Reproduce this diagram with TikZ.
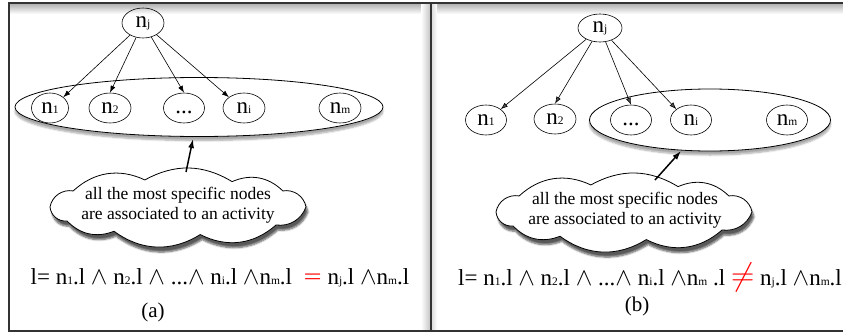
\documentclass[tikz,border=0pt]{standalone}
\usepackage{fontspec}
\setmainfont{Liberation Serif}
\usepackage{graphicx}
\usetikzlibrary{shapes.geometric,arrows.meta,shadows.blur,calc}
\newcommand{\lowsub}[1]{{\fontsize{0.5em}{0.5em}\selectfont #1}}
\newcommand{\puffcloud}[1]{%
  \foreach \a [count=\k] in {0,40,80,120,150,180,215,255,295,325}
    \coordinate (#1-\k) at ($(#1)+(\a:128 and 28)$);
  \draw[cloudline] (#1-1) to[bend left=38] (#1-2) to[bend left=34] (#1-3)
    to[bend left=34] (#1-4) to[bend left=34] (#1-5) to[bend left=45] (#1-6)
    to[bend left=45] (#1-7) to[bend left=34] (#1-8) to[bend left=30] (#1-9)
    to[bend left=34] (#1-10) to[bend left=45] (#1-1) -- cycle;}
\begin{document}
\begin{tikzpicture}[x=1pt,y=-1pt,
  nd/.style={ellipse,draw,line width=0.6pt,inner sep=0pt,minimum width=42pt,minimum height=30pt,font=\fontsize{23}{23}\selectfont},
  groupell/.style={ellipse,draw,line width=0.8pt,inner sep=0pt,fill=white,blur shadow={shadow xshift=0pt,shadow yshift=-4pt,shadow opacity=35,shadow blur steps=6}},
  cloudline/.style={draw,line width=0.8pt,fill=white,blur shadow={shadow xshift=2pt,shadow yshift=-5pt,shadow opacity=65,shadow blur steps=6}},
  bubbletext/.style={inner sep=0pt,align=center,font=\fontsize{17.5}{20}\selectfont},
  arrowline/.style={-{Latex[length=7pt,width=5pt]},line width=0.6pt},
  callout/.style={-{Latex[length=9pt,width=6pt]},line width=1.5pt},
  formula/.style={font=\fontsize{23}{23}\selectfont,inner sep=0pt},
  captext/.style={font=\fontsize{21}{21}\selectfont,inner sep=0pt},
  frameline/.style={line width=1.6pt,draw=black!80}]
\useasboundingbox (0,0) rectangle (843,332);
% frame shadows
\shade[top color=black!30,bottom color=white] (9,4) rectangle (843,14);
\shade[left color=white,right color=black!25] (421,4) rectangle (431,331);
\shade[left color=black!15,right color=white] (431,4) rectangle (437,331);
\draw[frameline] (9,3) rectangle (846,331);
\draw[frameline] (431,3) -- (431,331);

% ---------- panel (a) ----------
\node[groupell,minimum width=368pt,minimum height=59pt] (ga) at (199,107) {};
\node[nd] (ja) at (143,23) {n\lowsub{j}};
\node[nd,minimum width=37pt] (a1) at (50,108) {n\lowsub{1}};
\node[nd] (a2) at (110,108) {n\lowsub{2}};
\node[nd,minimum width=41pt] (ad) at (184,108) {\vphantom{n}...};
\node[nd] (ai) at (244,108) {n\lowsub{i}};
\node[nd] (am) at (340,108) {n\lowsub{m}};
\draw[arrowline] (ja) -- (a1.north east);
\draw[arrowline] (ja) -- (a2.north);
\draw[arrowline] (ja) -- (ad.north);
\draw[arrowline] (ja) -- (ai.north west);
\coordinate (cca) at (178,207);
\puffcloud{cca}
\node[bubbletext] (ca) at (178,205) {all the most specific nodes\\are associated to an activity};
\coordinate (sa) at (186,172);
\coordinate (ta) at (193,139);
\draw[callout] (sa) -- (ta);
\node[formula] (fa) at (220,278) {l= n\lowsub{1}.l $\wedge$ n\lowsub{2}.l $\wedge$ ...$\wedge$ n\lowsub{i}.l $\wedge$n\lowsub{m}.l\enspace\textcolor{red}{\scalebox{1.4}[1]{=}} n\lowsub{j}.l $\wedge$n\lowsub{m}.l};
\node[captext] (la) at (153,312) {(a)};

% ---------- panel (b) ----------
\node[groupell,minimum width=241pt,minimum height=62pt] (gb) at (710,120) {};
\node[nd,minimum width=44pt,minimum height=28pt] (jb) at (600,28) {n\lowsub{j}};
\node[nd,minimum width=41pt] (b1) at (486,120) {n\lowsub{1}};
\node[nd] (b2) at (555,119) {n\lowsub{2}};
\node[nd,minimum width=41pt] (bd) at (631,120) {\vphantom{n}...};
\node[nd,minimum width=41pt] (bi) at (691,120) {n\lowsub{i}};
\node[nd,minimum width=41pt] (bm) at (787,120) {n\lowsub{m}};
\draw[arrowline] (jb) -- (b1.north east);
\draw[arrowline] (jb) -- (b2.north);
\draw[arrowline] (jb) -- (bd.north);
\draw[arrowline] (jb) -- (bi.north west);
\coordinate (ccb) at (624,212);
\puffcloud{ccb}
\node[bubbletext] (cb) at (625,210) {all the most specific nodes\\are associated to an activity};
\coordinate (sb) at (655,180);
\coordinate (tb) at (681,151);
\draw[callout] (sb) -- (tb);
\node[formula] (fb) at (650,277) {l= n\lowsub{1}.l $\wedge$ n\lowsub{2}.l $\wedge$ ...$\wedge$ n\lowsub{i}.l $\wedge$n\lowsub{m} .l \textcolor{red}{\scalebox{1.3}{$\neq$}} n\lowsub{j}.l $\wedge$n\lowsub{m}.l};
\node[captext] (lb) at (637,306) {(b)};
\end{tikzpicture}
\end{document}
